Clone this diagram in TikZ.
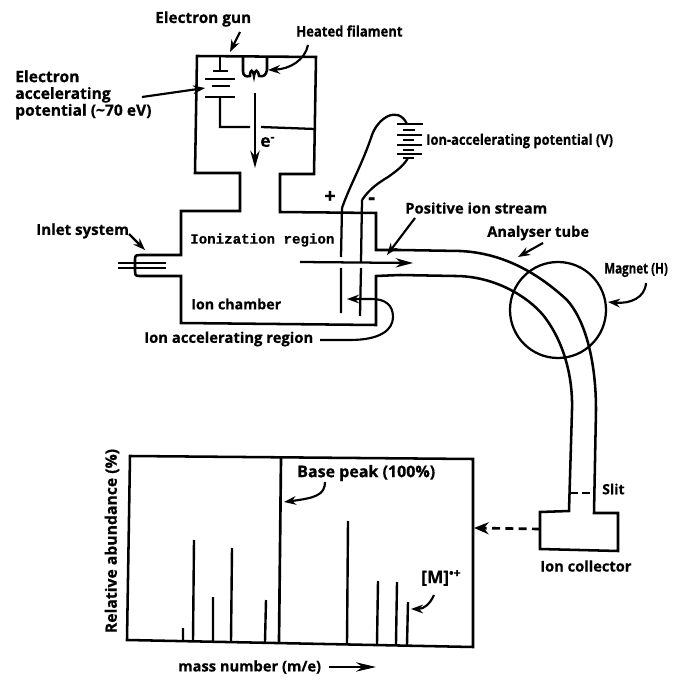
\documentclass[tikz,border=0pt]{standalone}
\usepackage{fontspec}
\setmainfont{Open Sans}[BoldFeatures={FakeBold=0.6}]
\newfontfamily\typefont{Liberation Mono}[BoldFeatures={FakeBold=0.6}]
\usetikzlibrary{arrows.meta}
\tikzset{
 wall/.style={line width=1.9pt,line join=miter},
 thin wall/.style={line width=1.7pt},
 lead/.style={line width=1.6pt,-{Stealth[length=9pt,width=6.5pt]}},
 lab/.style={font=\fontsize{#1pt}{12.6pt}\selectfont\bfseries,inner sep=0pt,anchor=west,text=black},
 lab/.default=11,
 narrow/.style={xscale=#1,transform shape},
 typelab/.style={font=\fontsize{10.6pt}{12pt}\selectfont\typefont\bfseries,inner sep=0pt,anchor=west},
 peak/.style={line width=1.8pt}
}
\begin{document}
\begin{tikzpicture}[x=0.75pt,y=-0.75pt]
\useasboundingbox (0,0) rectangle (686,681);
% labels
\node[lab=11.5] (gun) at (155,19) {Electron gun};
\node[lab=11,narrow=0.89] (fil) at (296,31) {Heated filament};
\node[lab=11.7,align=left,anchor=north west] (eap) at (15,70) {Electron\\accelerating\\potential (\char"007E 70 eV)};
\node[lab=11,narrow=0.88] (iap) at (426,141) {Ion-accelerating potential (V)};
\node[lab=11.1] (pis) at (405,208) {Positive ion stream};
\node[lab=11] (ana) at (487,233) {Analyser tube};
\node[lab=11,narrow=0.79] (mag) at (604,270) {Magnet (H)};
\node[lab=11.3] (inl) at (36,231) {Inlet system};
\node[typelab] (ioniz) at (190,240) {Ionization region};
\node[lab=10.7] (cham) at (191,304) {Ion chamber};
\node[lab=11.1] (iar) at (144,339) {Ion accelerating region};
\node[lab=15] (plus) at (324,197) {+};
\node[lab=16] (minus) at (368,201) {-};
\node[lab=13] (elec) at (260,142) {e\textsuperscript{-}};
\node[lab=10.5] (slit) at (602,489) {Slit};
\node[lab=11] (coll) at (540,566) {Ion collector};
\node[lab=12] (base) at (297,473) {Base peak (100\%)};
\node[lab=13] (mol) at (421,578) {[M]\textsuperscript{•+}};
\node[lab=11.8,rotate=90,anchor=center] (rel) at (112,541) {Relative abundance (\%)};
\node[lab=11] (mass) at (178,667) {mass number (m/e)};
% gun and chamber outline
\draw[wall] (195,173) -- (197,56) -- (316,57) -- (314,174) -- (280,174) -- (280,212) -- (376,213) -- (376,250)
  -- (400,250) -- (460,251) .. controls (505,253) and (540,275) .. (567,300) .. controls (585,320) and (596,360) .. (596,410)
  -- (594,513) -- (618,513) -- (618,551) -- (540,549) -- (540,512) -- (569,511) -- (572,410)
  .. controls (573,375) and (563,340) .. (543,315) .. controls (528,297) and (495,276) .. (455,276)
  -- (400,275) -- (376,276) -- (376,325) -- (181,323) -- (181,276) -- (139,276) .. controls (135,276) and (135,274) .. (135,271) -- (135,259) .. controls (135,255) and (137,255) .. (140,255) -- (181,255) -- (181,211) -- (240,211) -- (240,173) -- cycle;
% inlet
\draw[thin wall] (118,263) -- (166,263) (118,268) -- (166,268);
% filament
\draw[wall] (243,57) -- (243,71) .. controls (243,76) and (246,77) .. (250,76) .. controls (250,69) and (253,69) .. (254,76) .. controls (255,69) and (258,69) .. (259,76) .. controls (264,77) and (266,75) .. (267,70) -- (267,57);
% battery
\draw[thin wall] (220,57) -- (220,71) (213,71) -- (228,71) (205,79) -- (235,79) (212,86) -- (230,86) (205,97) -- (235,97);
\draw[thin wall] (220,97) -- (220,127) -- (250,127) (261,127) -- (315,129);
\coordinate (egtop) at (255,93);
\coordinate (egend) at (255,168);
\draw[thin wall,-{Stealth[length=13pt,width=7pt]}] (egtop) -- (egend);
% plates
\draw[thin wall] (342,208) -- (341,257) (341,268) -- (341,313);
\draw[thin wall] (362,200) -- (361,262) (361,268) -- (360,316);
% ion stream
\draw[thin wall,-{Stealth[length=13pt,width=7pt]}] (300,262) -- (413,263);
% magnet
\node[draw,circle,line width=1.7pt,minimum size=72pt,inner sep=0pt] (magnet) at (558,310) {};
% slit
\draw[line width=1.9pt,dash pattern=on 6pt off 3pt] (570,493) -- (594,493);
% second battery
\draw[thin wall] (342,208) .. controls (350,185) and (362,165) .. (372,135) .. controls (378,118) and (398,105) .. (407,124);
\draw[thin wall] (362,200) .. controls (370,188) and (380,182) .. (388,177) .. controls (398,170) and (404,165) .. (408,158);
\draw[thin wall] (397,124) -- (423,124) (403,130) -- (415,130) (397,135) -- (422,135) (403,140) -- (414,140) (397,145) -- (422,145) (403,150) -- (414,150) (397,154) -- (422,154) (403,158) -- (414,158);
% spectrum
\draw[wall] (127,640) -- (130,456) -- (473,459) -- (473,647) -- cycle;
\draw[line width=2pt] (281,458) -- (279,642);
\draw[peak] (183,628) -- (183,641) (194,540) -- (193,641) (213,597) -- (213,642) (232,548) -- (231,642)
 (266,600) -- (265,642) (348,521) -- (347,644) (378,581) -- (377,644) (397,582) -- (396,644) (408,602) -- (407,645);
% leaders
\draw[lead] (240,32) -- (230,52);
\draw[lead] (308,45) .. controls (305,60) and (290,69) .. (268,70);
\draw[lead] (142,97) -- (205,88);
\draw[lead] (129,234) -- (145,250);
\draw[lead] (415,218) -- (387,255);
\draw[lead] (543,243) -- (518,257);
\draw[lead] (646,283) .. controls (645,298) and (630,304) .. (608,302);
\draw[lead] (320,340) -- (350,340) .. controls (380,340) and (393,330) .. (393,317) .. controls (393,305) and (385,299) .. (372,299) -- (347,299);
\draw[lead] (325,482) .. controls (325,495) and (315,498) .. (284,502);
\draw[lead] (434,595) .. controls (430,604) and (424,609) .. (411,609);
\draw[line width=2pt,dash pattern=on 6pt off 4pt,-{Stealth[length=11pt,width=9pt]}] (540,529) -- (474,528);
\draw[line width=1.6pt,-{Stealth[length=15pt,width=7pt]}] (329,667) -- (376,667);
\end{tikzpicture}
\end{document}
